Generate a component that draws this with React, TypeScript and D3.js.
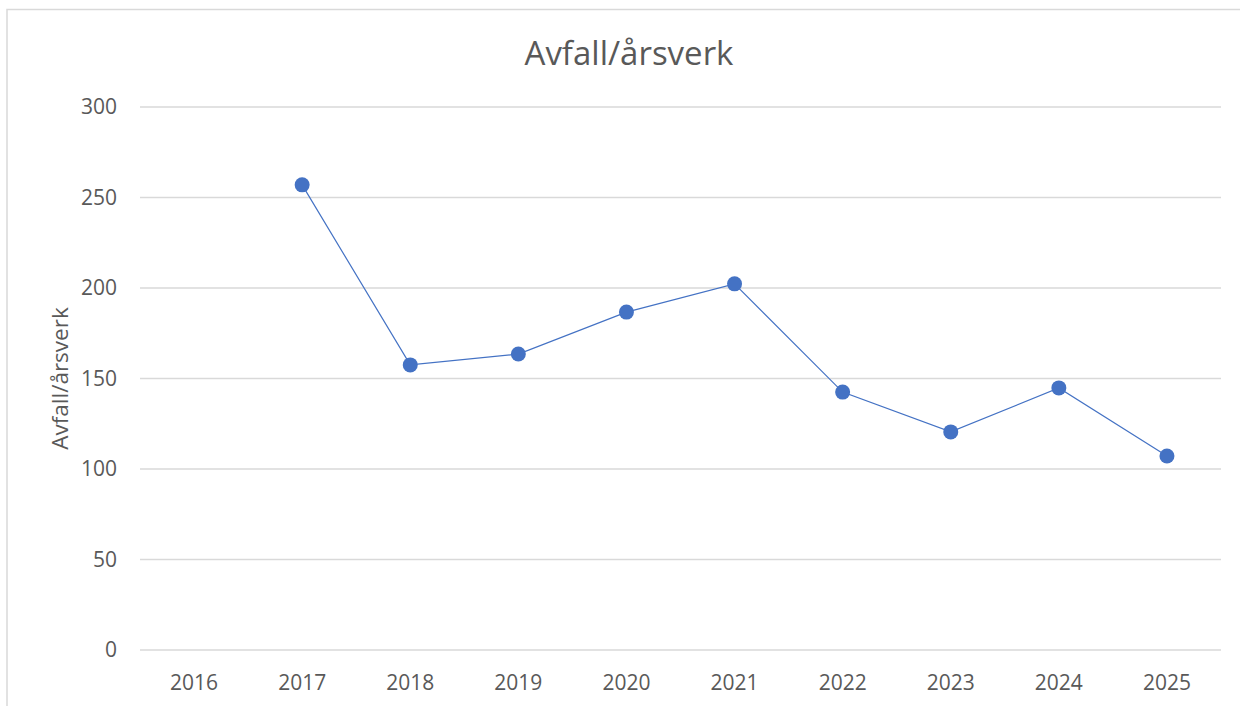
import React from "react";
import * as d3 from "d3";

const years = ["2016", "2017", "2018", "2019", "2020", "2021", "2022", "2023", "2024", "2025"];
const values: (number | null)[] = [null, 257, 157.5, 163.5, 186.7, 202.3, 142.5, 120.5, 144.8, 107.2];
const yTicks = [0, 50, 100, 150, 200, 250, 300];

const width = 1240;
const height = 706;
const margin = { top: 107, right: 19, bottom: 56, left: 140 };
const font = "'Open Sans', 'Liberation Sans', sans-serif";

export default function App() {
  // Scales
  const xScale = d3
    .scaleBand()
    .domain(years)
    .range([margin.left, width - margin.right]);
  const yScale = d3
    .scaleLinear()
    .domain([0, 300])
    .range([height - margin.bottom, margin.top]);

  const cx = (d: string) => (xScale(d) ?? 0) + xScale.bandwidth() / 2;

  const points = years
    .map((y, i) => ({ year: y, value: values[i] }))
    .filter((d) => d.value !== null) as { year: string; value: number }[];

  const line = d3
    .line<{ year: string; value: number }>()
    .x((d) => cx(d.year))
    .y((d) => yScale(d.value));

  return (
    <svg
      width={width}
      height={height}
      style={{ position: "absolute", left: 0, top: 0, background: "#fff" }}
    >
      {/* chart frame */}
      <rect x={7} y={9.5} width={1300} height={800} fill="#fff" stroke="#d9d9d9" strokeWidth={1.5} />

      <text
        x={629}
        y={65}
        textAnchor="middle"
        fontFamily={font}
        fontSize={33}
        fill="#595959"
      >
        Avfall/årsverk
      </text>

      {/* gridlines + y ticks */}
      {yTicks.map((t) => (
        <g key={t}>
          <line
            x1={margin.left}
            x2={width - margin.right}
            y1={yScale(t)}
            y2={yScale(t)}
            stroke="#d9d9d9"
            strokeWidth={1.5}
          />
          <text
            x={117}
            y={yScale(t)}
            dy="0.35em"
            textAnchor="end"
            fontFamily={font}
            fontSize={21}
            fill="#595959"
          >
            {t}
          </text>
        </g>
      ))}

      {/* x labels */}
      {years.map((y) => (
        <text
          key={y}
          x={cx(y)}
          y={690}
          textAnchor="middle"
          fontFamily={font}
          fontSize={21}
          fill="#595959"
        >
          {y}
        </text>
      ))}

      <text
        transform={`translate(68,${yScale(150)}) rotate(-90)`}
        textAnchor="middle"
        fontFamily={font}
        fontSize={22.5}
        fill="#595959"
      >
        Avfall/årsverk
      </text>

      <path d={line(points) ?? ""} fill="none" stroke="#4472C4" strokeWidth={1.2} />
      {points.map((d) => (
        <circle key={d.year} cx={cx(d.year)} cy={yScale(d.value)} r={7.5} fill="#4472C4" />
      ))}
    </svg>
  );
}
